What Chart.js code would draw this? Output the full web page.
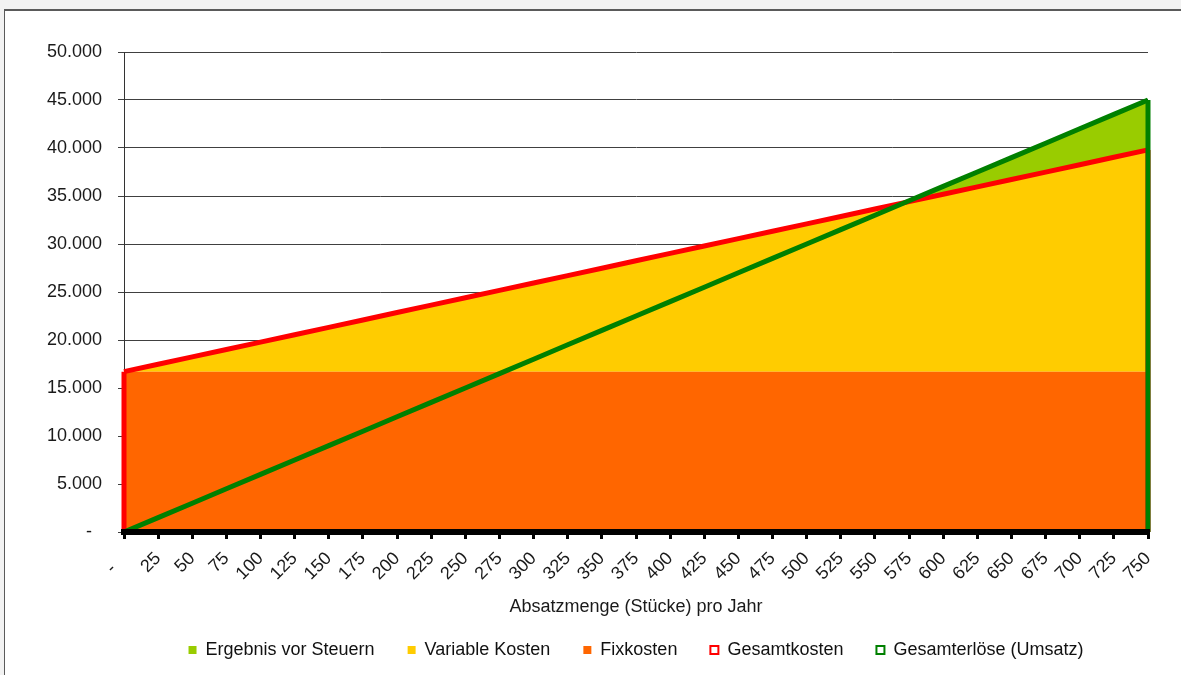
<!DOCTYPE html>
<html lang="de">
<head>
<meta charset="utf-8">
<title>Break-even</title>
<script src="https://cdn.jsdelivr.net/npm/chart.js@4.4.1/dist/chart.umd.min.js"></script>
<style>
    html, body { margin: 0; padding: 0; background: #f2f2f2; overflow: hidden; }
    .sheet {
        position: absolute; left: 4px; top: 9px; width: 1200px; height: 700px;
        background: #fff; border-top: 2px solid #5a5a5a; border-left: 1px solid #5a5a5a;
    }
    .wrap { position: absolute; left: 0; top: 0; width: 1181px; height: 675px; }
</style>
</head>
<body>
<div class="sheet"></div>
<div class="wrap"><canvas id="breakEvenChart"></canvas></div>
<script>
// Absatzmenge (Stück) pro Jahr
const mengen = ['-   ', '25', '50', '75', '100', '125', '150', '175', '200', '225', '250', '275', '300',
    '325', '350', '375', '400', '425', '450', '475', '500', '525', '550', '575', '600', '625',
    '650', '675', '700', '725', '750'];

const fixkosten = [16700, 16700, 16700, 16700, 16700, 16700, 16700, 16700, 16700, 16700, 16700,
    16700, 16700, 16700, 16700, 16700, 16700, 16700, 16700, 16700, 16700, 16700, 16700, 16700,
    16700, 16700, 16700, 16700, 16700, 16700, 16700];

const variableKosten = [0, 770, 1540, 2310, 3080, 3850, 4620, 5390, 6160, 6930, 7700, 8470, 9240,
    10010, 10780, 11550, 12320, 13090, 13860, 14630, 15400, 16170, 16940, 17710, 18480, 19250,
    20020, 20790, 21560, 22330, 23100];

const ergebnis = [0, 0, 0, 0, 0, 0, 0, 0, 0, 0, 0, 0, 0, 0, 0, 0, 0, 0, 0, 0, 0, 0, 0,
    90, 820, 1550, 2280, 3010, 3740, 4470, 5200];

const gesamtkosten = [16700, 17470, 18240, 19010, 19780, 20550, 21320, 22090, 22860, 23630, 24400,
    25170, 25940, 26710, 27480, 28250, 29020, 29790, 30560, 31330, 32100, 32870, 33640, 34410,
    35180, 35950, 36720, 37490, 38260, 39030, 39800];

const umsatz = [0, 1500, 3000, 4500, 6000, 7500, 9000, 10500, 12000, 13500, 15000, 16500, 18000,
    19500, 21000, 22500, 24000, 25500, 27000, 28500, 30000, 31500, 33000, 34500, 36000, 37500,
    39000, 40500, 42000, 43500, 45000];

const legendOrder = [2, 1, 0, 3, 4];

function formatEuro(v) {
    if (v === 0) return '-  ';
    return String(v).replace(/\B(?=(\d{3})+(?!\d))/g, '.');
}

// Excel draws the outline of an unfilled area series, vertical edges included
const areaEdges = {
    id: 'areaEdges',
    afterDatasetDraw(chart, args) {
        const ds = chart.data.datasets[args.index];
        if (!ds.edges) return;
        const pts = args.meta.data;
        const base = chart.scales.y.getPixelForValue(0);
        const ctx = chart.ctx;
        ctx.save();
        ctx.strokeStyle = ds.borderColor;
        ctx.lineWidth = ds.borderWidth;
        [pts[0], pts[pts.length - 1]].forEach(p => {
            ctx.beginPath();
            ctx.moveTo(p.x, p.y);
            ctx.lineTo(p.x, base);
            ctx.stroke();
        });
        ctx.restore();
    }
};

Chart.defaults.font.family = '"Liberation Sans", Arial, sans-serif';
Chart.defaults.font.size = 18;
Chart.defaults.color = '#1a1a1a';

const area = (label, data, color, fill, order) => ({
    label, data, fill, order,
    stack: 'kosten',
    backgroundColor: color,
    borderColor: 'rgba(0,0,0,0)',
    borderWidth: 0,
    pointRadius: 0,
    tension: 0
});

const outline = (label, data, color, order) => ({
    label, data, order,
    stack: label,
    fill: false,
    edges: true,
    backgroundColor: '#ffffff',
    borderColor: color,
    borderWidth: 5,
    pointRadius: 0,
    tension: 0
});

new Chart(document.getElementById('breakEvenChart'), {
    type: 'line',
    data: {
        labels: mengen,
        datasets: [
            area('Fixkosten', fixkosten, '#ff6600', 'origin', 2),
            area('Variable Kosten', variableKosten, '#ffcc00', '-1', 3),
            area('Ergebnis vor Steuern', ergebnis, '#99cc00', '-1', 4),
            outline('Gesamtkosten', gesamtkosten, '#ff0000', 1),
            outline('Gesamterlöse (Umsatz)', umsatz, '#008000', 0)
        ]
    },
    options: {
        responsive: true,
        maintainAspectRatio: false,
        animation: false,
        layout: { padding: { left: 0, right: 33, top: 52, bottom: 6 } },
        plugins: {
            tooltip: { enabled: false },
            legend: {
                position: 'bottom',
                fullSize: false,
                labels: {
                    boxWidth: 8,
                    boxHeight: 8,
                    padding: 33,
                    color: '#111',
                    generateLabels(chart) {
                        const items = Chart.defaults.plugins.legend.labels.generateLabels(chart);
                        items.forEach(it => { if (it.lineWidth > 0) it.lineWidth = 2; });
                        return items;
                    },
                    sort: (a, b) => legendOrder.indexOf(a.datasetIndex) - legendOrder.indexOf(b.datasetIndex)
                }
            }
        },
        scales: {
            x: {
                afterFit(scale) { scale.height = 76; },
                border: { color: '#000', width: 6, z: 1 },
                grid: { drawOnChartArea: false, color: '#000', lineWidth: 3, tickLength: 7 },
                ticks: { autoSkip: false, minRotation: 45, maxRotation: 45, padding: 9, color: '#1a1a1a' },
                title: {
                    display: true,
                    text: 'Absatzmenge (Stücke) pro Jahr',
                    color: '#1a1a1a',
                    padding: { top: 0, bottom: -10 }
                }
            },
            y: {
                stacked: true,
                min: 0,
                max: 50000,
                afterFit(scale) { scale.width = 124; },
                border: { color: '#333', width: 1 },
                grid: { color: '#404040', lineWidth: 1, tickLength: 6 },
                ticks: { stepSize: 5000, padding: 16, color: '#1a1a1a', callback: v => formatEuro(v) }
            }
        }
    },
    plugins: [areaEdges]
});
</script>
</body>
</html>
